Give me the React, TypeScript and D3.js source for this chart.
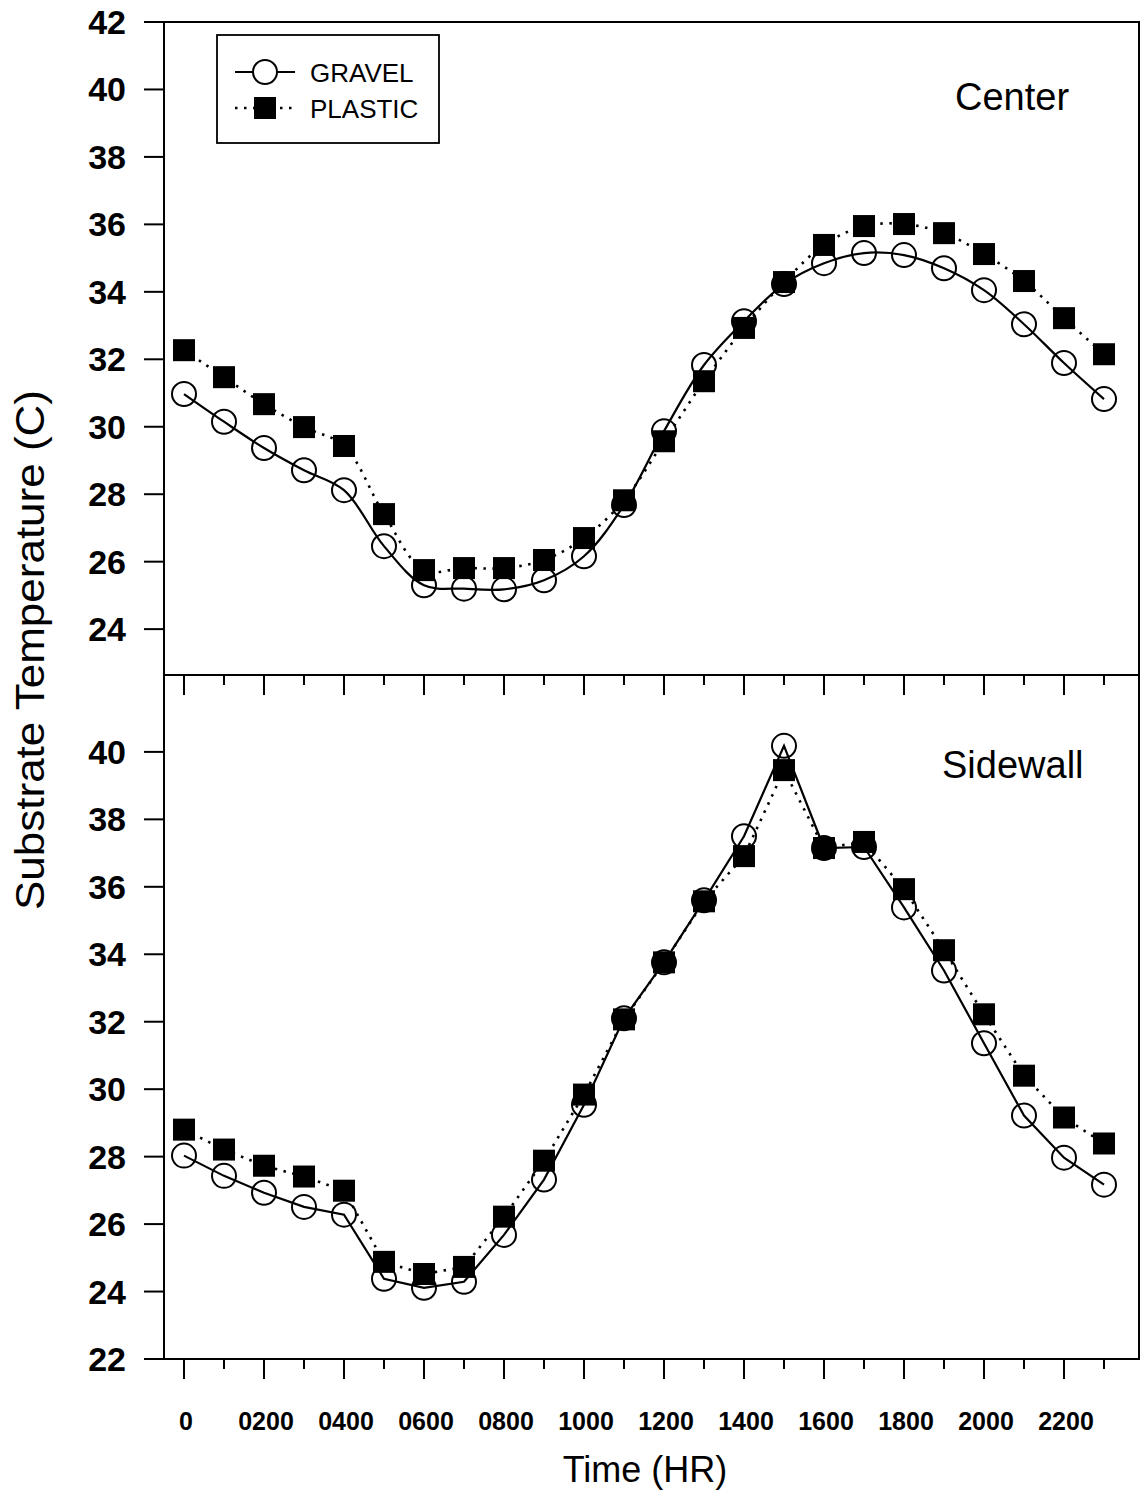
import React from "react";
import * as d3 from "d3";

// Hour of day (x position of each reading)
const hours = [0, 1, 2, 3, 4, 5, 6, 7, 8, 9, 10, 11, 12, 13, 14, 15, 16, 17, 18, 19, 20, 21, 22, 23];

// Substrate temperature at bench center (°C)
const centerGravel = [
  30.97, 30.15, 29.37, 28.71, 28.12, 26.46, 25.3, 25.2, 25.18, 25.45, 26.16, 27.68,
  29.87, 31.83, 33.13, 34.23, 34.85, 35.15, 35.09, 34.7, 34.05, 33.04, 31.89, 30.82,
];
const centerPlastic = [
  32.27, 31.47, 30.67, 29.99, 29.43, 27.41, 25.75, 25.81, 25.81, 26.05, 26.7, 27.82,
  29.57, 31.35, 32.93, 34.29, 35.39, 35.95, 36.01, 35.74, 35.12, 34.32, 33.22, 32.15,
];

// Substrate temperature at bench sidewall (°C)
const sidewallGravel = [
  28.03, 27.43, 26.93, 26.51, 26.28, 24.38, 24.11, 24.29, 25.68, 27.32, 29.54, 32.1,
  33.76, 35.6, 37.5, 40.18, 37.15, 37.18, 35.39, 33.52, 31.36, 29.22, 27.97, 27.17,
];
const sidewallPlastic = [
  28.8, 28.21, 27.73, 27.41, 26.99, 24.88, 24.52, 24.73, 26.22, 27.88, 29.84, 32.07,
  33.76, 35.57, 36.91, 39.46, 37.15, 37.33, 35.93, 34.12, 32.22, 30.4, 29.16, 28.39,
];

const majorTickHours = [0, 2, 4, 6, 8, 10, 12, 14, 16, 18, 20, 22];
const timeLabels = ["0", "0200", "0400", "0600", "0800", "1000", "1200", "1400", "1600", "1800", "2000", "2200"];
const centerYTicks = [24, 26, 28, 30, 32, 34, 36, 38, 40, 42];
const sidewallYTicks = [22, 24, 26, 28, 30, 32, 34, 36, 38, 40];

const W = 1144;
const H = 1494;
const FONT = "'Liberation Sans', Arial, Helvetica, sans-serif";

const plotLeft = 164;
const plotRight = 1140;
const topY = 22;
const midY = 675;
const botY = 1359;

const x = d3.scaleLinear().domain([-0.5, 23.9]).range([plotLeft, plotRight]);
const yCenter = d3.scaleLinear().domain([22.64, 42]).range([midY, topY]);
const ySide = d3.scaleLinear().domain([22, 42.28]).range([botY, midY]);

const CIRCLE_R = 12;
const SQUARE = 22;

type PanelProps = {
  y: d3.ScaleLinear<number, number>;
  gravel: number[];
  plastic: number[];
  curve: d3.CurveFactory;
};

function SeriesPanel({ y, gravel, plastic, curve }: PanelProps) {
  const line = d3
    .line<number>()
    .x((_, i) => x(hours[i]))
    .y((d) => y(d))
    .curve(curve);
  return (
    <g>
      <path d={line(gravel) || ""} fill="none" stroke="#000" strokeWidth={2.2} />
      <path
        d={line(plastic) || ""}
        fill="none"
        stroke="#000"
        strokeWidth={2.6}
        strokeDasharray="2.5 6.5"
      />
      {gravel.map((v, i) => (
        <circle
          key={"g" + i}
          cx={x(hours[i])}
          cy={y(v)}
          r={CIRCLE_R}
          fill="none"
          stroke="#000"
          strokeWidth={2}
        />
      ))}
      {plastic.map((v, i) => (
        <rect
          key={"p" + i}
          x={x(hours[i]) - SQUARE / 2}
          y={y(v) - SQUARE / 2}
          width={SQUARE}
          height={SQUARE}
          fill="#000"
        />
      ))}
    </g>
  );
}

function XTicks({ atY }: { atY: number }) {
  return (
    <g stroke="#000" strokeWidth={2}>
      {hours.map((h) => {
        const major = h % 2 === 0;
        return (
          <line key={h} x1={x(h)} x2={x(h)} y1={atY} y2={atY + (major ? 20 : 10)} />
        );
      })}
    </g>
  );
}

function YTicks({ y, ticks }: { y: d3.ScaleLinear<number, number>; ticks: number[] }) {
  return (
    <g>
      {ticks.map((t) => (
        <g key={t}>
          <line x1={plotLeft - 20} x2={plotLeft} y1={y(t)} y2={y(t)} stroke="#000" strokeWidth={2} />
          <text
            x={126}
            y={y(t)}
            textAnchor="end"
            dominantBaseline="central"
            fontFamily={FONT}
            fontWeight="bold"
            fontSize={34}
          >
            {t}
          </text>
        </g>
      ))}
    </g>
  );
}

export default function App() {
  return (
    <svg
      width={W}
      height={H}
      viewBox={`0 0 ${W} ${H}`}
      style={{ position: "absolute", left: 0, top: 0, background: "#fff" }}
    >
      <rect x={0} y={0} width={W} height={H} fill="#fff" />

      {/* frame */}
      <g stroke="#000" strokeWidth={2} fill="none">
        <line x1={plotLeft} x2={plotLeft} y1={topY} y2={botY} />
        <line x1={plotLeft} x2={plotRight} y1={topY} y2={topY} />
        <line x1={plotRight - 1} x2={plotRight - 1} y1={topY} y2={botY} />
        <line x1={plotLeft} x2={plotRight} y1={midY} y2={midY} />
        <line x1={plotLeft} x2={plotRight} y1={botY} y2={botY} />
      </g>

      <YTicks y={yCenter} ticks={centerYTicks} />
      <YTicks y={ySide} ticks={sidewallYTicks} />
      <XTicks atY={midY} />
      <XTicks atY={botY} />

      <SeriesPanel y={yCenter} gravel={centerGravel} plastic={centerPlastic} curve={d3.curveCatmullRom} />
      <SeriesPanel y={ySide} gravel={sidewallGravel} plastic={sidewallPlastic} curve={d3.curveLinear} />

      {/* panel labels */}
      <text x={955} y={110} fontFamily={FONT} fontSize={38}>
        Center
      </text>
      <text x={942} y={778} fontFamily={FONT} fontSize={38}>
        Sidewall
      </text>

      {/* legend */}
      <g>
        <rect x={217} y={35} width={222} height={108} fill="#fff" stroke="#000" strokeWidth={1.8} />
        <line x1={235} x2={295} y1={72} y2={72} stroke="#000" strokeWidth={2.2} />
        <circle cx={265} cy={72} r={CIRCLE_R} fill="#fff" stroke="#000" strokeWidth={2} />
        <line x1={235} x2={295} y1={108} y2={108} stroke="#000" strokeWidth={2.6} strokeDasharray="2.5 6.5" />
        <rect x={265 - SQUARE / 2} y={108 - SQUARE / 2} width={SQUARE} height={SQUARE} fill="#000" />
        <text x={310} y={82} fontFamily={FONT} fontSize={26}>
          GRAVEL
        </text>
        <text x={310} y={118} fontFamily={FONT} fontSize={26}>
          PLASTIC
        </text>
      </g>

      {/* time tick labels */}
      {majorTickHours.map((h, i) => (
        <text
          key={h}
          x={x(h) + 2}
          y={1430}
          textAnchor="middle"
          fontFamily={FONT}
          fontWeight="bold"
          fontSize={25}
        >
          {timeLabels[i]}
        </text>
      ))}

      {/* axis titles */}
      <text x={645} y={1482} textAnchor="middle" fontFamily={FONT} fontSize={36}>
        Time (HR)
      </text>
      <text
        transform="translate(44, 650) rotate(-90)"
        textAnchor="middle"
        fontFamily={FONT}
        fontSize={40}
        textLength={520}
        lengthAdjust="spacingAndGlyphs"
      >
        Substrate Temperature (C)
      </text>
    </svg>
  );
}
